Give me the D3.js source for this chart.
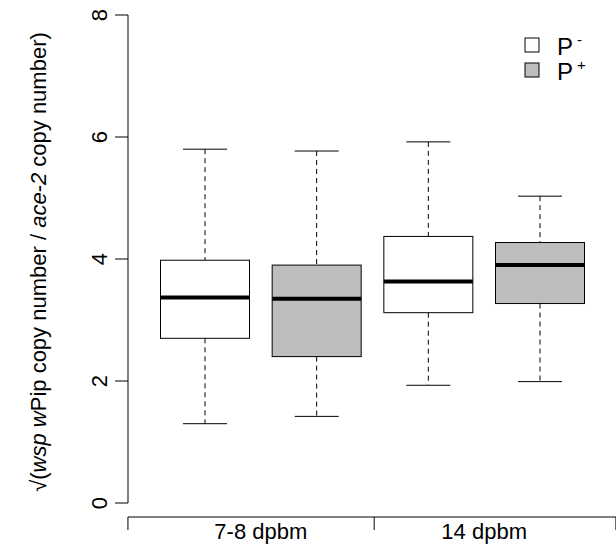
<!DOCTYPE html>
<html><head><meta charset="utf-8">
<script src="https://cdn.jsdelivr.net/npm/d3@7"></script>
<style>body{margin:0;background:#fff}text{font-family:"Liberation Sans",Arial,sans-serif}</style>
</head><body><svg id="c" width="616" height="545"></svg>
<script>
const groups = ["7-8 dpbm","14 dpbm"];
const boxLabels = ["P-","P+","P-","P+"];
const lowW = [1.30,1.42,1.93,1.99];
const q1 = [2.70,2.40,3.12,3.27];
const med = [3.37,3.35,3.63,3.90];
const q3 = [3.98,3.90,4.37,4.27];
const highW = [5.80,5.77,5.92,5.03];
const fills = ["#ffffff","#bebebe","#ffffff","#bebebe"];
const yTicks = [0,2,4,6,8];

const svg = d3.select("#c");
const x = d3.scaleLinear().domain([1,4]).range([205,540]);
const y = d3.scaleLinear().domain([0,8]).range([503,15]);
const hw = 44.5;
const fs = 22;

svg.append("line").attr("x1",128).attr("x2",128).attr("y1",y(0)).attr("y2",y(8)).attr("stroke","#000");
yTicks.forEach(t=>{
  svg.append("line").attr("x1",115).attr("x2",128).attr("y1",y(t)).attr("y2",y(t)).attr("stroke","#000");
  svg.append("text").attr("transform",`translate(107,${y(t)}) rotate(-90)`).attr("text-anchor","middle").attr("font-size",fs).text(t);
});
svg.append("text").attr("transform","translate(46,262) rotate(-90)").attr("text-anchor","middle").attr("font-size",22)
  .html('√(<tspan font-style="italic">wsp w</tspan>Pip copy number / <tspan font-style="italic">ace-2</tspan> copy number)');

const xa = [x(0.31), x(2.515), x(4.68)];
svg.append("line").attr("x1",xa[0]).attr("x2",xa[2]).attr("y1",517).attr("y2",517).attr("stroke","#000");
xa.forEach(v=>svg.append("line").attr("x1",v).attr("x2",v).attr("y1",517).attr("y2",530).attr("stroke","#000"));
groups.forEach((g,i)=>svg.append("text").attr("x",x(1.5+2*i)).attr("y",539).attr("text-anchor","middle").attr("font-size",fs).text(g));

boxLabels.forEach((b,i)=>{
  const cx = x(i+1);
  const g = svg.append("g").attr("stroke","#000");
  g.append("line").attr("x1",cx).attr("x2",cx).attr("y1",y(highW[i])).attr("y2",y(q3[i])).attr("stroke-dasharray","5,4");
  g.append("line").attr("x1",cx).attr("x2",cx).attr("y1",y(q1[i])).attr("y2",y(lowW[i])).attr("stroke-dasharray","5,4");
  g.append("line").attr("x1",cx-22).attr("x2",cx+22).attr("y1",y(highW[i])).attr("y2",y(highW[i]));
  g.append("line").attr("x1",cx-22).attr("x2",cx+22).attr("y1",y(lowW[i])).attr("y2",y(lowW[i]));
  g.append("rect").attr("x",cx-hw).attr("width",2*hw).attr("y",y(q3[i])).attr("height",y(q1[i])-y(q3[i])).attr("fill",fills[i]);
  g.append("line").attr("x1",cx-hw).attr("x2",cx+hw).attr("y1",y(med[i])).attr("y2",y(med[i])).attr("stroke-width",4);
});

[["-","#ffffff"],["+","#bebebe"]].forEach((d,i)=>{
  const yy = 45+25*i;
  svg.append("rect").attr("x",525).attr("y",yy-7).attr("width",14).attr("height",14).attr("fill",d[1]).attr("stroke","#000");
  svg.append("text").attr("x",557).attr("y",yy+10).attr("font-size",24).html(`P<tspan dx="4" dy="-10" font-size="15">${d[0]}</tspan>`);
});
</script></body></html>
